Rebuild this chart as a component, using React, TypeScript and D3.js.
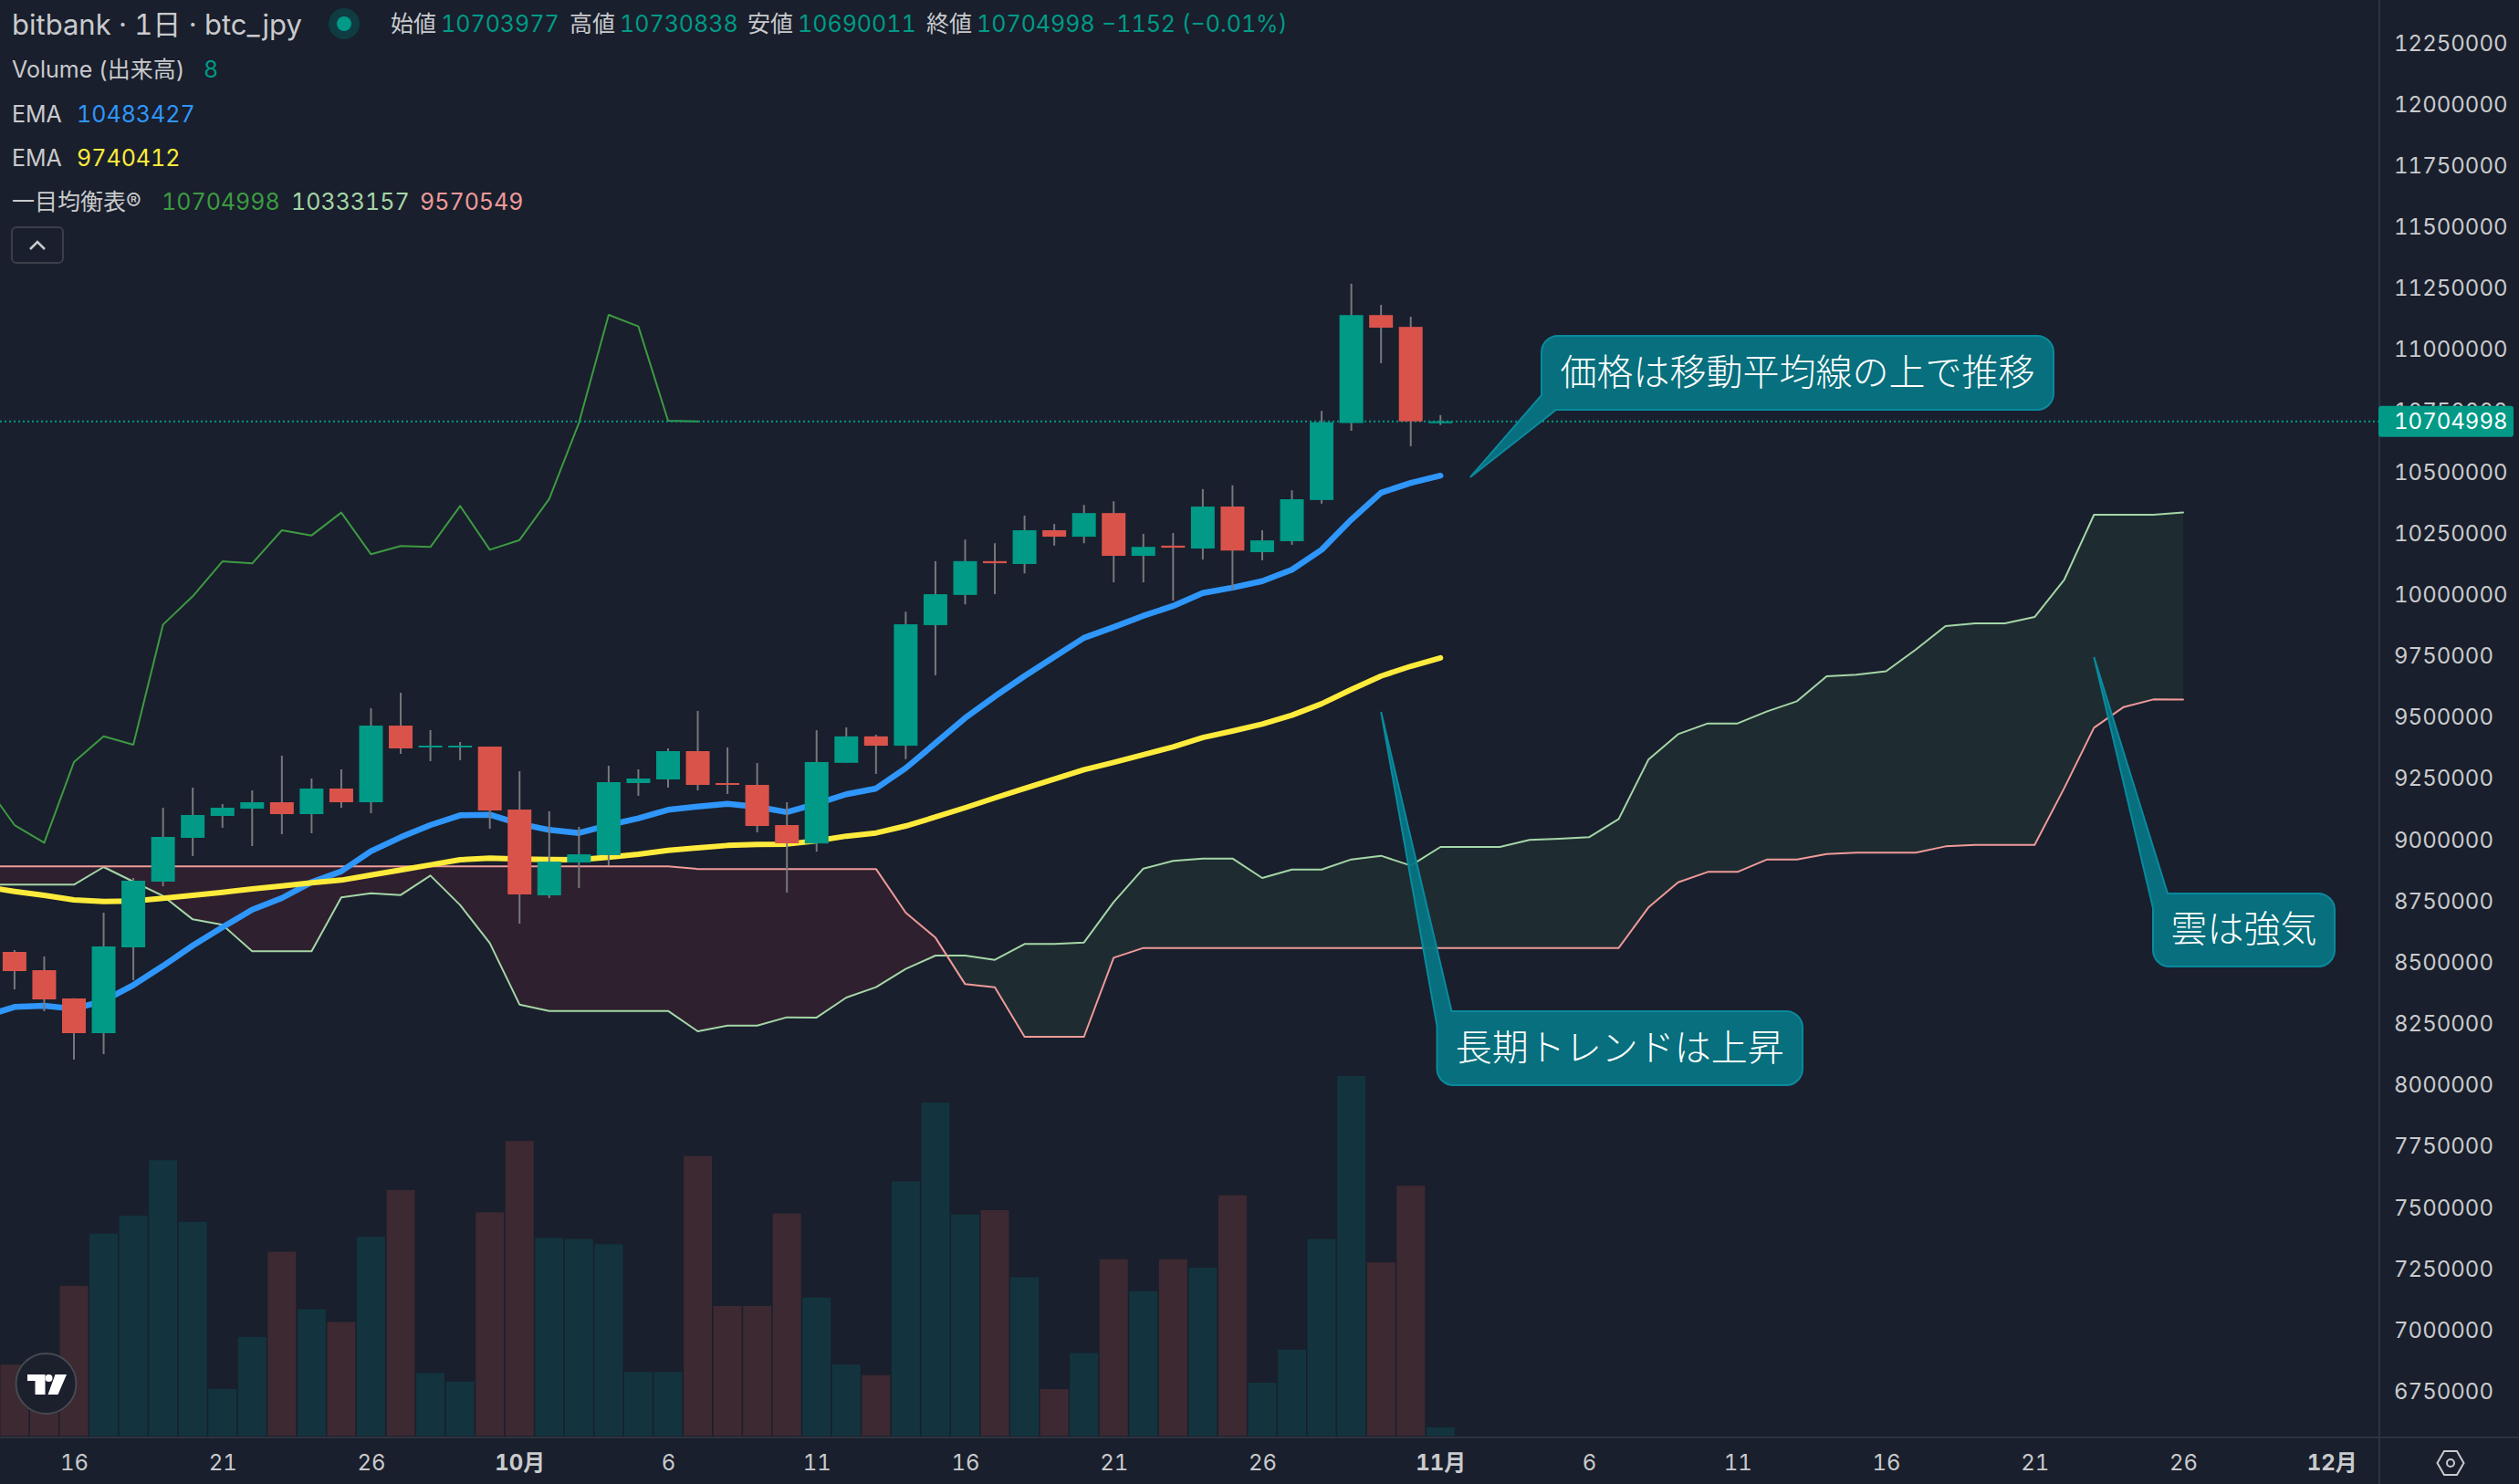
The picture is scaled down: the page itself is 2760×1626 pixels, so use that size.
import React, { useRef, useEffect } from "react";
import * as d3 from "d3";

const WIDTH = 2760;
const HEIGHT = 1626;
const PANE_RIGHT = 2607;
const PANE_BOTTOM = 1574;
const FONT = "Inter, 'Noto Sans CJK JP', sans-serif";
const CJK_FONT = "'Noto Sans CJK JP', sans-serif";

const BG = "#191f2c";
const UP = "#009a87";
const DOWN = "#da534b";
const TEXT = "#c9cacd";

// daily bars, first one is 2024-09-14
const firstCandle = new Date(Date.UTC(2024, 8, 14));
const opens = [
    8540800, 8466300, 8350900, 8209400, 8559400, 8827400, 9006100, 9095500, 9125300, 9151300, 9102900, 9207200, 9151300,
    9464000, 9374700, 9374700, 9378400, 9121500, 8771600, 8905600, 8935400, 9229500, 9244400, 9359800, 9229500, 9222000,
    9058200, 8983000, 9312100, 9420100, 9381900, 9873900, 9996900, 10134800, 10123100, 10261000, 10234500, 10330900,
    10156400, 10198000, 10186300, 10357500, 10171400, 10216200, 10384100, 10698200, 11138600, 11090400, 10703977,
];
const highs = [
    8548200, 8522100, 8352000, 8700800, 8842300, 9129000, 9210900, 9143900, 9199700, 9341200, 9248100, 9285300, 9534800,
    9598000, 9445400, 9397000, 9378400, 9277900, 9114100, 9050800, 9300200, 9285300, 9371000, 9523600, 9374700, 9311400,
    9151300, 9445000, 9456700, 9426800, 9928700, 10134800, 10222900, 10207900, 10320900, 10286000, 10364200, 10379100,
    10246200, 10249500, 10429000, 10444000, 10261000, 10424000, 10748000, 11266600, 11180200, 11132000, 10730838,
];
const lows = [
    8388100, 8298800, 8101400, 8123800, 8425300, 8808800, 8931700, 9047100, 8972600, 9021000, 9024700, 9129000, 9106600,
    9348600, 9318900, 9322600, 9043400, 8656200, 8760400, 8801400, 8894400, 9177400, 9210900, 9199700, 9184800, 9028500,
    8782700, 8949800, 9312100, 9267200, 9327100, 9669400, 9958600, 10000000, 10084900, 10198000, 10207900, 10048400,
    10048400, 9973600, 10141400, 10018500, 10138100, 10201300, 10369200, 10666600, 10942500, 10603500, 10690011,
];
const closes = [
    8462600, 8347100, 8209400, 8563100, 8831200, 9009900, 9099200, 9129000, 9151300, 9102900, 9207200, 9151300, 9464000,
    9371000, 9382200, 9382200, 9117800, 8775300, 8909300, 8939000, 9233200, 9248100, 9359800, 9222000, 9222000, 9054500,
    8983800, 9315400, 9420100, 9381900, 9877200, 10000000, 10134800, 10126400, 10261000, 10234500, 10330900, 10156400,
    10193000, 10189700, 10357500, 10178000, 10219500, 10387400, 10701600, 11138600, 11087100, 10704900, 10704998,
];
const volumes = [
    67, 60, 141, 190, 207, 259, 201, 44, 93, 173, 119, 107, 187, 231, 59, 51, 210, 277, 186, 185, 180, 60, 60, 263, 122,
    122, 209, 130, 67, 57, 239, 313, 208, 212, 149, 44, 78, 166, 136, 166, 158, 226, 50, 81, 185, 338, 163, 235, 8,
];

// line series start one day earlier, 2024-09-13, so they run off the left edge
const firstLine = new Date(Date.UTC(2024, 8, 13));
const emaFast = [
    8278900, 8316000, 8321000, 8308600, 8341000, 8405500, 8483600, 8566800, 8641300, 8713200, 8760400, 8825000, 8869600,
    8951500, 9008600, 9058200, 9098000, 9100400, 9063200, 9038400, 9026000, 9058200, 9085600, 9120300, 9133900, 9145100,
    9132700, 9111000, 9145000, 9184000, 9207400, 9290500, 9392000, 9494900, 9583000, 9666000, 9744000, 9822000, 9865600,
    9912000, 9952000, 10005000, 10026800, 10053400, 10100000, 10181300, 10304300, 10414000, 10453900, 10483427,
];
const emaSlow = [
    8806300, 8787700, 8771600, 8753000, 8746800, 8748000, 8759200, 8771600, 8784000, 8797600, 8810000, 8822500, 8833600,
    8854700, 8874600, 8895700, 8916800, 8923000, 8919300, 8918000, 8916800, 8926700, 8939000, 8955200, 8965000, 8975000,
    8978800, 8980500, 8994000, 9013000, 9026000, 9054500, 9091000, 9129000, 9169000, 9207400, 9245600, 9283900, 9313800,
    9345300, 9377000, 9415000, 9441700, 9470000, 9506600, 9553000, 9611000, 9666000, 9706000, 9740412,
];
const chikou = [
    9227000, 9058200, 8986000, 9315000, 9420600, 9385900, 9876000, 9991500, 10134000, 10125500, 10260800, 10239700,
    10332800, 10162800, 10196300, 10192500, 10360000, 10181400, 10221000, 10388600, 10698900, 11139400, 11092300,
    10707600, 10704998,
];
const spanA = [
    8815000, 8815000, 8815000, 8815000, 8887000, 8827400, 8769000, 8673500, 8651200, 8543200, 8543200, 8543200, 8762900,
    8780300, 8772800, 8852000, 8731900, 8576700, 8326000, 8300000, 8300000, 8300000, 8300000, 8300000, 8216900, 8240400,
    8240400, 8274000, 8273000, 8354600, 8396800, 8471200, 8525800, 8525800, 8508400, 8573000, 8573000, 8579200, 8744200,
    8880700, 8911800, 8921700, 8921700, 8842300, 8877000, 8877000, 8918000, 8932900, 8893000, 8968900, 8969000, 8969000,
    8997400, 9002400, 9008600, 9083000, 9325000, 9429000, 9472700, 9472700, 9522300, 9563300, 9665000, 9671300, 9685500,
    9774200, 9869800, 9881000, 9881000, 9907000, 10059700, 10324000, 10324000, 10324000, 10333157,
];
const spanB = [
    8889500, 8889500, 8889500, 8889500, 8889500, 8889500, 8889500, 8889500, 8889500, 8889500, 8889500, 8889500, 8889500,
    8889500, 8889500, 8889500, 8889500, 8889500, 8889500, 8889500, 8889500, 8889500, 8889500, 8889500, 8879000, 8879000,
    8879000, 8879000, 8879000, 8879000, 8879000, 8700800, 8599000, 8409200, 8396800, 8194500, 8194500, 8194500, 8517000,
    8556900, 8556900, 8556900, 8556900, 8556900, 8556900, 8556900, 8556900, 8556900, 8556900, 8556900, 8556900, 8556900,
    8556900, 8556900, 8556900, 8556900, 8722000, 8824900, 8867000, 8867000, 8918000, 8918000, 8940300, 8945300, 8945300,
    8945300, 8971300, 8977500, 8977500, 8977500, 9209600, 9455300, 9539700, 9570700, 9570549,
];

const priceTicks = [
    12250000, 12000000, 11750000, 11500000, 11250000, 11000000, 10750000, 10500000, 10250000, 10000000, 9750000, 9500000,
    9250000, 9000000, 8750000, 8500000, 8250000, 8000000, 7750000, 7500000, 7250000, 7000000, 6750000,
];
const lastPrice = 10704998;

const dateTicks = [
    [2024, 8, 16], [2024, 8, 21], [2024, 8, 26], [2024, 9, 1], [2024, 9, 6], [2024, 9, 11], [2024, 9, 16], [2024, 9, 21],
    [2024, 9, 26], [2024, 10, 1], [2024, 10, 6], [2024, 10, 11], [2024, 10, 16], [2024, 10, 21], [2024, 10, 26], [2024, 11, 1],
].map(([y, m, d]) => new Date(Date.UTC(y, m, d)));
const monthNames = ["", "", "", "", "", "", "", "", "", "10月", "11月", "12月"];

// callout tips sit on the chart, so they are given as date and price
const callouts = [
    { text: "価格は移動平均線の上で推移", tipDate: new Date(Date.UTC(2024, 10, 2)), tipPrice: 10476700, box: [1689, 368, 561, 81], corner: "bl" },
    { text: "長期トレンドは上昇", tipDate: new Date(Date.UTC(2024, 9, 30)), tipPrice: 9519900, box: [1574.5, 1108, 400.5, 81], corner: "tl" },
    { text: "雲は強気", tipDate: new Date(Date.UTC(2024, 10, 23)), tipPrice: 9743000, box: [2359, 979, 199, 80], corner: "tl" },
];

const legendOhlc = [
    { label: "始値", value: "10703977", labelX: 428, valueX: 483 },
    { label: "高値", value: "10730838", labelX: 624, valueX: 679 },
    { label: "安値", value: "10690011", labelX: 819, valueX: 874 },
    { label: "終値", value: "10704998", labelX: 1015, valueX: 1070 },
];

export default function App() {
    const svgRef = useRef<SVGSVGElement>(null);

    useEffect(() => {
        document.body.style.margin = "0";
        document.body.style.background = BG;
        if (!svgRef.current) return;

        const svg = d3.select(svgRef.current);
        svg.selectAll("*").remove();

        const x = d3.scaleUtc()
            .domain([new Date(Date.UTC(2024, 8, 16)), new Date(Date.UTC(2024, 10, 26))])
            .range([81, 2392]);
        const y = d3.scaleLinear()
            .domain([12250000, 6750000])
            .range([46.7, 1524]);
        const yVol = d3.scaleLinear()
            .domain([0, 338])
            .range([1573.3, 1179]);

        const candleDate = (i: number) => d3.utcDay.offset(firstCandle, i);
        const lineDate = (i: number) => d3.utcDay.offset(firstLine, i);

        svg.append("rect").attr("width", WIDTH).attr("height", HEIGHT).attr("fill", BG);

        const defs = svg.append("defs");
        defs.append("clipPath").attr("id", "pane")
            .append("rect").attr("width", PANE_RIGHT).attr("height", PANE_BOTTOM);

        const g = svg.append("g").attr("clip-path", "url(#pane)");

        // Volume
        g.append("g").selectAll("rect")
            .data(volumes)
            .join("rect")
            .attr("x", (_, i) => x(candleDate(i)) - 15.5)
            .attr("width", 31)
            .attr("y", d => yVol(d))
            .attr("height", d => yVol(0) - yVol(d))
            .attr("fill", (_, i) => closes[i] >= opens[i] ? "#13343e" : "#3d2932");

        // Cloud: each colour is clipped to the side where its span is on top
        const cloudIdx = d3.range(spanA.length);
        const cloudX = (i: number) => x(lineDate(i));
        const aboveLine = (id: string, series: number[]) => {
            defs.append("clipPath").attr("id", id)
                .append("path")
                .attr("d", d3.area<number>().x(cloudX).y0(0).y1(i => y(series[i]))(cloudIdx));
        };
        aboveLine("above-b", spanB);
        aboveLine("above-a", spanA);
        const band = d3.area<number>().x(cloudX).y0(i => y(spanA[i])).y1(i => y(spanB[i]));
        g.append("path").attr("d", band(cloudIdx)).attr("fill", "#1e2c31").attr("clip-path", "url(#above-b)");
        g.append("path").attr("d", band(cloudIdx)).attr("fill", "#2e202e").attr("clip-path", "url(#above-a)");

        const drawLine = (series: number[], color: string, width: number) => {
            const line = d3.line<number>()
                .x((_, i) => x(lineDate(i)))
                .y(d => y(d));
            g.append("path")
                .datum(series)
                .attr("fill", "none")
                .attr("stroke", color)
                .attr("stroke-width", width)
                .attr("stroke-linecap", "round")
                .attr("stroke-linejoin", "round")
                .attr("d", line);
        };
        drawLine(spanA, "#a5d6a7", 2);
        drawLine(spanB, "#ef9a9a", 2);
        drawLine(chikou, "#3d9a42", 2);
        drawLine(emaFast, "#2f96fb", 6.5);
        drawLine(emaSlow, "#ffeb3b", 6);

        // Last price line
        g.append("line")
            .attr("x1", 0).attr("x2", PANE_RIGHT)
            .attr("y1", y(lastPrice)).attr("y2", y(lastPrice))
            .attr("stroke", UP)
            .attr("stroke-width", 2)
            .attr("stroke-dasharray", "2 3");

        // Candles
        const candles = g.append("g").selectAll("g")
            .data(opens)
            .join("g");
        candles.append("line")
            .attr("x1", (_, i) => x(candleDate(i)))
            .attr("x2", (_, i) => x(candleDate(i)))
            .attr("y1", (_, i) => y(highs[i]))
            .attr("y2", (_, i) => y(lows[i]))
            .attr("stroke", "#77787c")
            .attr("stroke-width", 2);
        candles.append("rect")
            .attr("x", (_, i) => x(candleDate(i)) - 13)
            .attr("width", 26)
            .attr("y", (d, i) => y(Math.max(d, closes[i])))
            .attr("height", (d, i) => Math.max(2, Math.abs(y(d) - y(closes[i]))))
            .attr("fill", (d, i) => closes[i] >= d ? UP : DOWN);

        // Callouts
        callouts.forEach(c => {
            const [bx, by, bw, bh] = c.box;
            const r = 18;
            const tail = 16;
            const tipX = x(c.tipDate);
            const tipY = y(c.tipPrice);
            const p = d3.path();
            if (c.corner === "tl") {
                p.moveTo(bx + tail, by);
                p.arcTo(bx + bw, by, bx + bw, by + bh, r);
                p.arcTo(bx + bw, by + bh, bx, by + bh, r);
                p.arcTo(bx, by + bh, bx, by, r);
                p.lineTo(bx, by + tail);
                p.lineTo(tipX, tipY);
            } else {
                p.moveTo(bx + r, by);
                p.arcTo(bx + bw, by, bx + bw, by + bh, r);
                p.arcTo(bx + bw, by + bh, bx, by + bh, r);
                p.lineTo(bx + tail, by + bh);
                p.lineTo(tipX, tipY);
                p.lineTo(bx, by + bh - tail);
                p.arcTo(bx, by, bx + bw, by, r);
            }
            p.closePath();
            svg.append("path")
                .attr("d", p.toString())
                .attr("fill", "#067482")
                .attr("fill-opacity", 0.95)
                .attr("stroke", "#0a8a9e")
                .attr("stroke-width", 2);
            svg.append("text")
                .attr("x", bx + bw / 2)
                .attr("y", by + bh / 2 - 4)
                .attr("text-anchor", "middle")
                .attr("dominant-baseline", "central")
                .attr("font-family", CJK_FONT)
                .attr("font-weight", 300)
                .attr("font-size", 40)
                .attr("fill", "#ffffff")
                .text(c.text);
        });

        // Price axis
        const axisY = svg.append("g")
            .attr("transform", `translate(${PANE_RIGHT},0.8)`)
            .call(d3.axisRight(y).tickValues(priceTicks).tickFormat(d3.format("d") as any).tickSize(0).tickPadding(16));
        axisY.select(".domain").remove();
        axisY.selectAll("text")
            .attr("fill", TEXT)
            .attr("font-size", 24)
            .attr("font-family", FONT)
            .style("font-variant-numeric", "tabular-nums");

        // Time axis
        const axisX = svg.append("g")
            .attr("transform", `translate(0,${PANE_BOTTOM})`)
            .call(d3.axisBottom(x).tickValues(dateTicks)
                .tickFormat(d => (d as Date).getUTCDate() === 1 ? monthNames[(d as Date).getUTCMonth()] : String((d as Date).getUTCDate()))
                .tickSize(0).tickPadding(20));
        axisX.select(".domain").remove();
        axisX.selectAll("text")
            .attr("fill", TEXT)
            .attr("font-size", 24)
            .attr("font-family", FONT)
            .attr("font-weight", d => (d as Date).getUTCDate() === 1 ? 700 : 400)
            .style("font-variant-numeric", "tabular-nums");

        svg.append("line").attr("x1", 0).attr("x2", WIDTH).attr("y1", PANE_BOTTOM + 1).attr("y2", PANE_BOTTOM + 1)
            .attr("stroke", "#2e3340").attr("stroke-width", 2);
        svg.append("line").attr("x1", PANE_RIGHT).attr("x2", PANE_RIGHT).attr("y1", 0).attr("y2", HEIGHT)
            .attr("stroke", "#2e3340").attr("stroke-width", 2);

        // Last price tag
        svg.append("rect")
            .attr("x", PANE_RIGHT - 1).attr("y", y(lastPrice) - 17)
            .attr("width", 148).attr("height", 34)
            .attr("rx", 3)
            .attr("fill", UP);
        svg.append("text")
            .attr("x", PANE_RIGHT + 16).attr("y", y(lastPrice))
            .attr("dominant-baseline", "central")
            .attr("font-family", FONT).attr("font-size", 24)
            .style("font-variant-numeric", "tabular-nums")
            .attr("fill", "#ffffff")
            .text(d3.format("d")(lastPrice));

        // Settings icon
        const gear = svg.append("g").attr("transform", "translate(2685,1603)")
            .attr("fill", "none").attr("stroke", TEXT).attr("stroke-width", 2);
        gear.append("path").attr("d", "M-14.5 0L-7 -13L7 -13L14.5 0L7 13L-7 13Z");
        gear.append("circle").attr("r", 4);

        // Legend
        const legend = svg.append("g").attr("font-family", FONT).style("font-variant-numeric", "tabular-nums");
        const label = (tx: number, ty: number, s: string, color: string, size = 25) =>
            legend.append("text")
                .attr("x", tx).attr("y", ty)
                .attr("font-size", size)
                .attr("dominant-baseline", "central")
                .attr("fill", color)
                .text(s);

        label(13, 26, "bitbank · 1日 · btc_jpy", TEXT, 31);
        legend.append("circle").attr("cx", 377).attr("cy", 26).attr("r", 17).attr("fill", "#0f3b42");
        legend.append("circle").attr("cx", 377).attr("cy", 26).attr("r", 8).attr("fill", UP);
        legendOhlc.forEach(o => {
            label(o.labelX, 26, o.label, TEXT);
            label(o.valueX, 26, o.value, UP);
        });
        label(1207, 26, "−1152 (−0.01%)", UP);

        label(13, 76, "Volume (出来高)", TEXT);
        label(223, 76, "8", UP);
        label(13, 125, "EMA", TEXT);
        label(84, 125, "10483427", "#2f96fb");
        label(13, 173, "EMA", TEXT);
        label(84, 173, "9740412", "#ffeb3b");
        label(13, 221, "一目均衡表®", TEXT);
        label(177, 221, "10704998", "#3d9a42");
        label(319, 221, "10333157", "#a5d6a7");
        label(460, 221, "9570549", "#ef9a9a");

        // Collapse button
        svg.append("rect")
            .attr("x", 13).attr("y", 249)
            .attr("width", 56).attr("height", 39)
            .attr("rx", 5)
            .attr("fill", "none")
            .attr("stroke", "#3a3f4a")
            .attr("stroke-width", 2);
        svg.append("path")
            .attr("d", "M33 273L41 265L49 273")
            .attr("fill", "none")
            .attr("stroke", TEXT)
            .attr("stroke-width", 2.5);

        // TradingView badge
        const badge = svg.append("g").attr("transform", "translate(50.5,1516)");
        badge.append("circle").attr("r", 33).attr("fill", "#1c202d").attr("stroke", "#454a50").attr("stroke-width", 2);
        badge.append("path").attr("fill", "#ffffff").attr("d", "M-20.5 -10H-1V12H-12V-3H-20.5Z");
        badge.append("circle").attr("cx", 3).attr("cy", -6).attr("r", 4).attr("fill", "#ffffff");
        badge.append("path").attr("fill", "#ffffff").attr("d", "M10 -10H22.5L13 12H2Z");
    }, []);

    return <svg ref={svgRef} width={WIDTH} height={HEIGHT} style={{ position: "absolute", left: 0, top: 0, display: "block" }} />;
}
